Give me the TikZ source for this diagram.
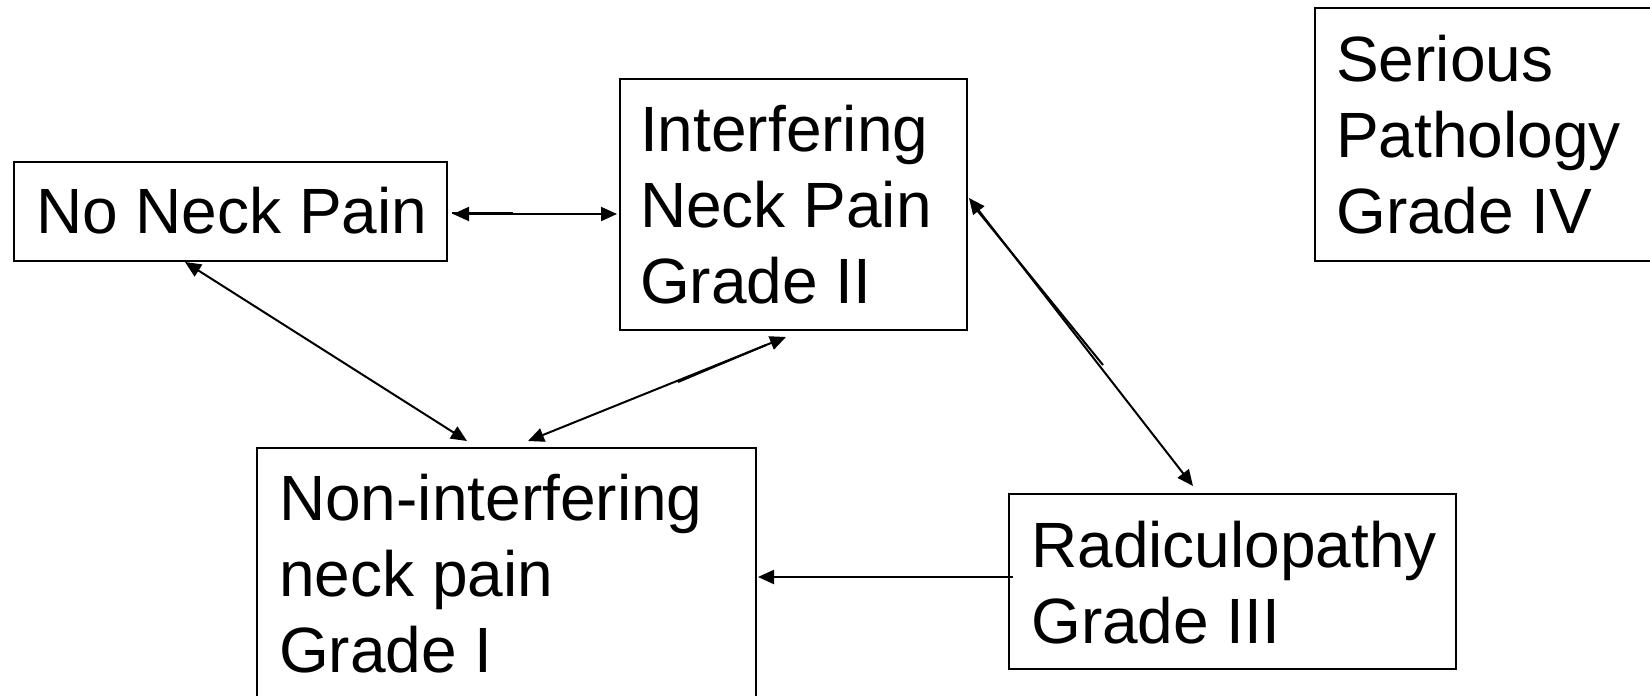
\documentclass[tikz,border=0pt]{standalone}
\usepackage{fontspec}
\setmainfont{Liberation Sans}
\usetikzlibrary{arrows.meta,calc}
\tikzset{
  box/.style={draw=black, line width=2pt, inner sep=0pt, anchor=north west},
  txt/.style={anchor=base west, inner sep=0pt, align=left, font=\fontsize{64}{76}\selectfont},
  conn/.style={line width=2pt, {Triangle[length=16pt,width=14pt]}-{Triangle[length=16pt,width=14pt]}},
  oneway/.style={line width=2pt, -{Triangle[length=16pt,width=14pt]}},
  extra/.style={line width=2pt}
}
\begin{document}
\begin{tikzpicture}[x=1pt,y=-1pt]
\clip (0,0) rectangle (1650,696);
\fill[white] (0,0) rectangle (1650,696);
% boxes
\node[box, minimum width=433pt, minimum height=99pt] (nn) at (13,161) {};
\node[box, minimum width=347pt, minimum height=251pt] (ib) at (619,78) {};
\node[box, minimum width=360pt, minimum height=253pt] (sb) at (1314,7) {};
\node[box, minimum width=499pt, minimum height=280pt] (nib) at (256,447) {};
\node[box, minimum width=447pt, minimum height=175pt] (rb) at (1008,493) {};
% texts (base = baseline of the last line)
\node[txt] (tnn) at (36,233) {No Neck Pain};
\node[txt] (tib) at (640,303) {Interfering\\Neck Pain\\Grade II};
\node[txt] (tsb) at (1336,233) {Serious\\Pathology\\Grade IV};
\node[txt] (tnib) at (279,672) {Non-interfering\\neck pain\\Grade I};
\node[txt] (trb) at (1031,643) {Radiculopathy\\Grade III};
% connectors
\draw[conn] ($(nn.east |- 0,214)+(5,0)$) -- ($(ib.west |- 0,214)+(-2,0)$);
\draw[conn] ($(nn.south west)+(172,0)$) -- ($(nib.north west)+(211,-6)$);
\draw[conn] ($(nib.north west)+(272,-6)$) -- ($(ib.south west)+(167,6)$);
\draw[conn] ($(ib.north east)+(1,120)$) -- ($(rb.north west)+(185,-7)$);
\draw[oneway] ($(rb.north west)+(5,84)$) -- ($(nib.north east)+(1,130)$);
% slight doubled strokes
\draw[extra] (452,213) -- (513,213);
\draw[extra] (678,382) -- (766,345);
\draw[extra] (972,204) -- (1103,365);
\end{tikzpicture}
\end{document}
